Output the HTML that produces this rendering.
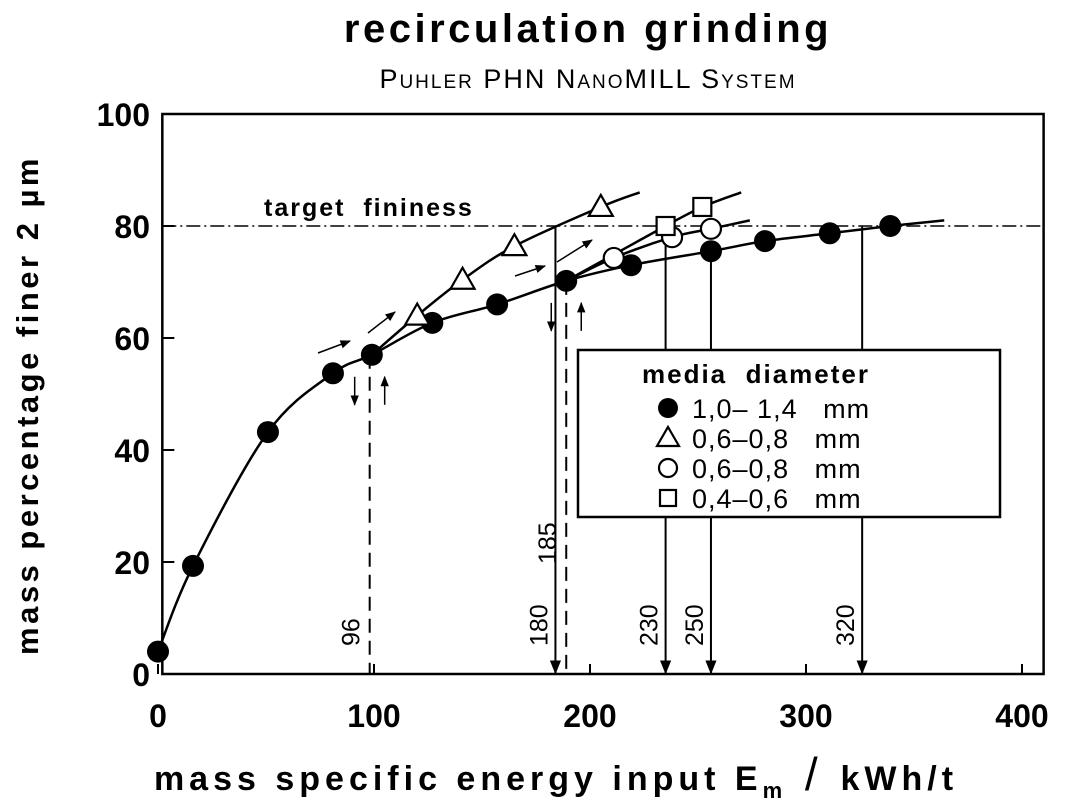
<!DOCTYPE html>
<html><head><meta charset="utf-8"><style>
html,body{margin:0;padding:0;background:#fff;}
svg{display:block;font-family:"Liberation Sans",sans-serif;}
text{white-space:pre;}
</style></head><body>
<svg id="chart" width="1080" height="808" viewBox="0 0 1080 808">
<defs>
<marker id="ah" viewBox="0 0 10 10" refX="9" refY="5" markerWidth="7" markerHeight="9" orient="auto-start-reverse"><path d="M0,1 L10,5 L0,9 Z" fill="#000"/></marker>
</defs>
<text x="588" y="42" text-anchor="middle" font-size="40" font-weight="bold" letter-spacing="3.5">recirculation grinding</text>
<text x="588" y="88" text-anchor="middle" font-size="27" letter-spacing="2" style="font-variant:small-caps">Puhler PHN NanoMILL System</text>
<text transform="translate(38,405) rotate(-90)" text-anchor="middle" font-size="31" font-weight="bold" letter-spacing="3.5">mass percentage finer 2 µm</text>
<text x="556" y="790" text-anchor="middle" font-size="34" font-weight="bold" letter-spacing="5">mass specific energy input E<tspan font-size="22" dy="8">m</tspan><tspan dy="-8" font-size="46" font-weight="normal"> / </tspan>kWh/t</text>
<g id="g"></g>
</svg>
<script>
const xTicks=[0,100,200,300,400];
const yTicks=[0,20,40,60,80,100];
const s1x=[0,16.2,50.9,81,99,127,157,189,219,256,281,311,339];
const s1y=[4,19.3,43.2,53.7,57,62.7,66,70.2,73,75.5,77.3,78.7,80];
const s2x=[120,141,165,205];
const s2y=[64,70.4,76.4,83.4];
const s3x=[211,238,256];
const s3y=[74.3,78,79.5];
const s4x=[235,252];
const s4y=[80,83.4];
const solidMarkX=[184,235,256,326];
const solidMarkLabels=["180","230","250","320"];
const solidMarkTopY=[80,80,75.5,80];
const dashMarkX=[98,189];
const dashMarkLabels=["96","185"];
const dashMarkTopY=[57,70.2];
const targetY=80;
const legendLabels=["1,0\u2013 1,4   mm","0,6\u20130,8   mm","0,6\u20130,8   mm","0,4\u20130,6   mm"];
const legendSymbols=["filled","triangle","circle","square"];

const X=v=>158+v*2.16;
const Y=v=>674-v*5.6;
const NS="http://www.w3.org/2000/svg";
const g=document.getElementById('g');
function mk(t,a,p){const e=document.createElementNS(NS,t);for(const k in a)e.setAttribute(k,a[k]);(p||g).appendChild(e);return e;}
function pathSmooth(xs,ys){
 const P=xs.map((x,i)=>[X(x),Y(ys[i])]);
 let d="M"+P[0][0]+","+P[0][1];
 for(let i=0;i<P.length-1;i++){
  const p0=P[i-1]||P[i],p1=P[i],p2=P[i+1],p3=P[i+2]||P[i+1];
  const c1=[p1[0]+(p2[0]-p0[0])/6,p1[1]+(p2[1]-p0[1])/6];
  const c2=[p2[0]-(p3[0]-p1[0])/6,p2[1]-(p3[1]-p1[1])/6];
  d+=` C${c1[0]},${c1[1]} ${c2[0]},${c2[1]} ${p2[0]},${p2[1]}`;
 }
 return d;
}

let e=mk('rect',{x:X(2),y:Y(100),width:X(410)-X(2),height:Y(0)-Y(100),fill:'none',stroke:'#000','stroke-width':2.5});

xTicks.forEach(v=>{
 let t=mk('text',{x:X(v),y:727,'text-anchor':'middle','font-size':32,'font-weight':'bold'});t.textContent=v;
 
 let l=mk('line',{x1:X(v),x2:X(v),y1:Y(0),y2:Y(0)-10,stroke:'#000','stroke-width':2});
 
});
yTicks.forEach(v=>{
 let t=mk('text',{x:150,y:Y(v)+12,'text-anchor':'end','font-size':32,'font-weight':'bold'});t.textContent=v;
 
 let l=mk('line',{x1:X(2),x2:X(2)+12,y1:Y(v),y2:Y(v),stroke:'#000','stroke-width':2});
 
});
e=mk('line',{x1:X(2),x2:X(410),y1:Y(targetY),y2:Y(targetY),stroke:'#000','stroke-width':1.5,'stroke-dasharray':'14 4 2 4'});

e=mk('text',{x:264,y:Y(targetY)-10,'font-size':25,'font-weight':'bold','letter-spacing':2});e.textContent='target  fininess';


solidMarkX.forEach((v,i)=>{
 let l=mk('line',{x1:X(v),x2:X(v),y1:Y(solidMarkTopY[i]),y2:Y(0)-1,stroke:'#000','stroke-width':2,'marker-end':'url(#ah)'});
 
 let t=mk('text',{transform:`translate(${X(v)-8},${Y(0)-28}) rotate(-90)`,'font-size':25});t.textContent=solidMarkLabels[i];
 
});
dashMarkX.forEach((v,i)=>{
 let l=mk('line',{x1:X(v),x2:X(v),y1:Y(dashMarkTopY[i]),y2:Y(0),stroke:'#000','stroke-width':2,'stroke-dasharray':'14 8'});
 
 let t=mk('text',{transform:`translate(${X(v)-10},${i==0?Y(0)-28:Y(0)-110}) rotate(-90)`,'font-size':25});t.textContent=dashMarkLabels[i];
 
 [[-15,1],[15,-1]].forEach(([dx,dir])=>{
  let y0=Y(dashMarkTopY[i])+22,y1=y0+28;
  let a=mk('line',{x1:X(v)+dx,x2:X(v)+dx,y1:dir>0?y0:y1,y2:dir>0?y1:y0,stroke:'#000','stroke-width':1.5,'marker-end':'url(#ah)'});
  
 });
});

function line(xs,ys,startX,startY,endX,endY,name){
 const ax=[startX].concat(xs).concat([endX]),ay=[startY].concat(ys).concat([endY]);
 let p=mk('path',{d:pathSmooth(ax,ay),fill:'none',stroke:'#000','stroke-width':2.5});
 
}
line(s1x.slice(1),s1y.slice(1),s1x[0],s1y[0],364,81,'line-1-0-1-4mm');
line(s2x,s2y,s1x[4],s1y[4],223,86,'line-triangle');
line(s3x,s3y,s1x[7],s1y[7],274,81,'line-open-circle');
line(s4x,s4y,s1x[7],s1y[7],270,86,'line-square');

function sym(type,cx,cy,r,name,parent){
 let el;
 if(type=='filled')el=mk('circle',{cx,cy,r,fill:'#000'},parent);
 else if(type=='circle')el=mk('circle',{cx,cy,r:r-1,fill:'#fff',stroke:'#000','stroke-width':2.2},parent);
 else if(type=='square')el=mk('rect',{x:cx-r+1,y:cy-r+1,width:2*r-2,height:2*r-2,fill:'#fff',stroke:'#000','stroke-width':2.2},parent);
 else el=mk('polygon',{points:`${cx},${cy-r-1} ${cx+r+1},${cy+r-2} ${cx-r-1},${cy+r-2}`,fill:'#fff',stroke:'#000','stroke-width':2.2},parent);
 
}
s1x.forEach((v,i)=>sym('filled',X(v),Y(s1y[i]),11,'point-1-0-1-4mm'));
s2x.forEach((v,i)=>sym('triangle',X(v),Y(s2y[i]),11,'point-triangle'));
s3x.forEach((v,i)=>sym('circle',X(v),Y(s3y[i]),11,'point-open-circle'));
s4x.forEach((v,i)=>sym('square',X(v),Y(s4y[i]),10,'point-square'));

[[318,353,350,341],[368,333,395,312],[515,276,545,266],[557,262,592,240]].forEach(a=>{
 let l=mk('line',{x1:a[0],y1:a[1],x2:a[2],y2:a[3],stroke:'#000','stroke-width':1.5,'marker-end':'url(#ah)'});
 
});

const lg=mk('g',{});
mk('rect',{x:578,y:350,width:422,height:167,fill:'#fff',stroke:'#000','stroke-width':2.5},lg);
e=mk('text',{x:642,y:383,'font-size':26,'font-weight':'bold','letter-spacing':2},lg);e.textContent='media  diameter';

legendLabels.forEach((t,i)=>{
 const y=408+i*30;
 sym(legendSymbols[i],668,y,legendSymbols[i]=='square'?9:10,'legend-symbol',lg);
 let tx=mk('text',{x:692,y:y+10,'font-size':27,'letter-spacing':1},lg);tx.textContent=t;
 
});
</script>
</body></html>
